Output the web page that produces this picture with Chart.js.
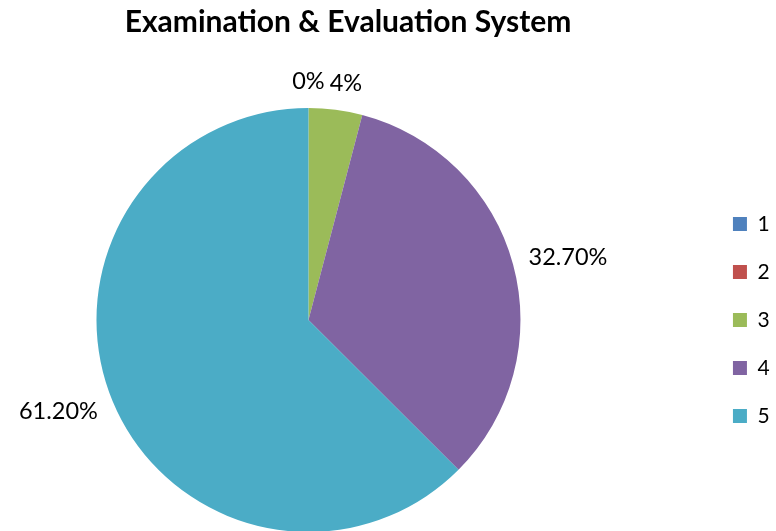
<!DOCTYPE html>
<html>
<head>
<meta charset="utf-8">
<script src="https://cdn.jsdelivr.net/npm/chart.js@4"></script>
<style>
html,body{margin:0;padding:0;background:#fff;}
#wrap{width:776px;height:531px;}
</style>
</head>
<body>
<div id="wrap"><canvas id="c" width="776" height="531"></canvas></div>
<script>
const categories = ['1', '2', '3', '4', '5'];
const values = [0, 0, 4, 32.7, 61.2];
const pctLabels = ['0%', '0%', '4%', '32.70%', '61.20%'];
const colors = ['#4F81BD', '#C0504D', '#9BBB59', '#8064A2', '#4BACC6'];
const titleText = 'Examination & Evaluation System';

const FONT = 'Lato, "Open Sans", sans-serif';

// Shift the legend column towards the right edge (Excel-like layout)
const legendShift = {
  id: 'legendShift',
  afterLayout(chart) {
    const lg = chart.legend;
    if (!lg) return;
    const dx = 89;
    lg.left += dx;
    lg.right += dx;
  }
};

const outLabels = {
  id: 'outLabels',
  afterDatasetsDraw(chart) {
    const ctx = chart.ctx;
    const meta = chart.getDatasetMeta(0);
    ctx.save();
    ctx.font = '23.5px ' + FONT;
    ctx.fillStyle = '#000';
    ctx.textAlign = 'center';
    ctx.textBaseline = 'middle';
    const drawn = {};
    meta.data.forEach((arc, i) => {
      const txt = pctLabels[i];
      const mid = (arc.startAngle + arc.endAngle) / 2;
      const key = txt + '@' + mid.toFixed(3);
      if (drawn[key]) return;
      drawn[key] = true;
      const g = 16;
      const r = arc.outerRadius + g;
      const sx = Math.cos(mid), sy = Math.sin(mid);
      const w = ctx.measureText(txt).width;
      const h = 22;
      const kx = Math.max(-1, Math.min(1, sx * 4));
      const x = arc.x + r * sx + (w / 2) * kx;
      const y = arc.y + r * sy + (h / 2) * sy;
      ctx.fillText(txt, x, y);
    });
    ctx.restore();
  }
};

new Chart(document.getElementById('c'), {
  type: 'pie',
  data: {
    labels: categories,
    datasets: [{
      data: values,
      backgroundColor: colors,
      borderWidth: 0,
      radius: 212
    }]
  },
  options: {
    responsive: false,
    animation: false,
    layout: { padding: { left: 0, right: 80, top: 0, bottom: 0 } },
    plugins: {
      title: {
        display: true,
        text: titleText,
        color: '#000',
        font: { family: FONT, size: 30, weight: 'bold', lineHeight: 1.2 },
        padding: { top: 4, bottom: 69 }
      },
      legend: {
        position: 'right',
        fullSize: false,
        labels: {
          boxWidth: 14,
          boxHeight: 14,
          padding: 27,
          color: '#000',
          font: { family: FONT, size: 21 },
          generateLabels(chart) {
            return categories.map((c, i) => ({
              text: c + ' ',
              fillStyle: colors[i],
              strokeStyle: colors[i],
              lineWidth: 0,
              hidden: false,
              index: i
            }));
          }
        }
      },
      tooltip: { enabled: false }
    }
  },
  plugins: [outLabels, legendShift]
});
</script>
</body>
</html>
